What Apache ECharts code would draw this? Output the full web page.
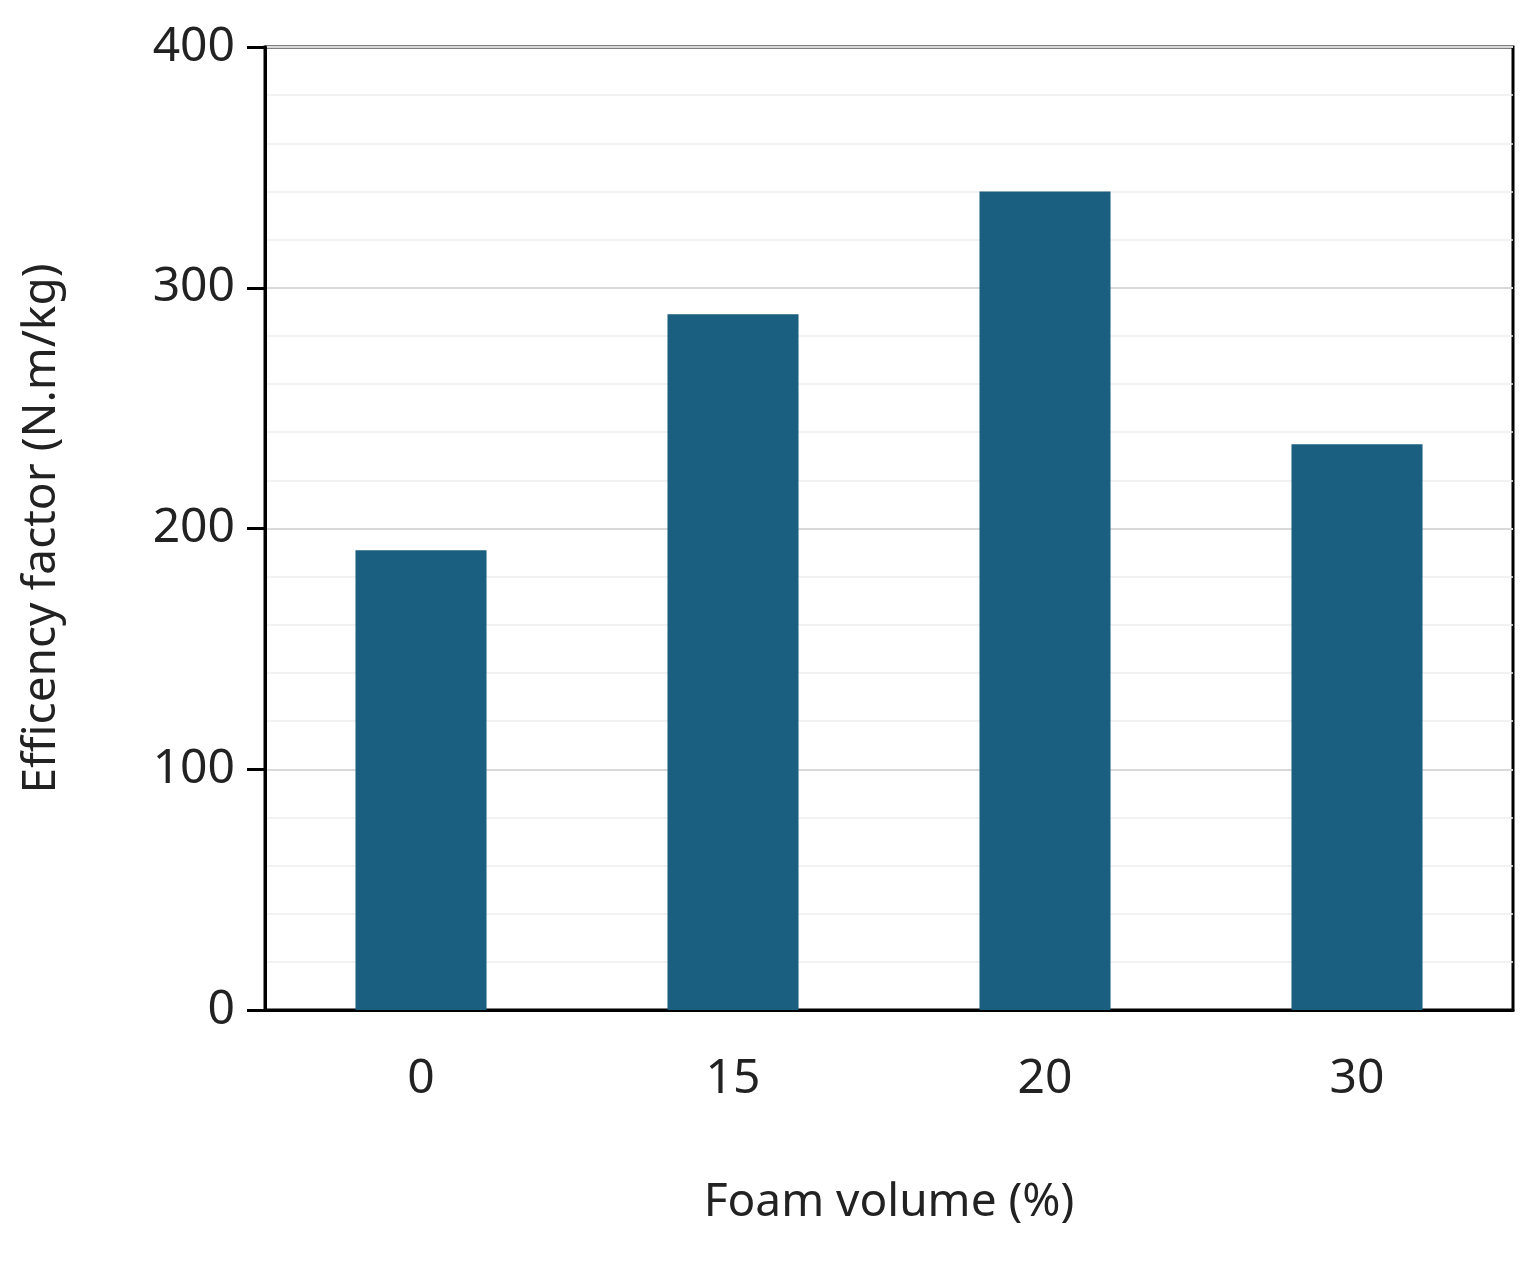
<!DOCTYPE html>
<html><head><meta charset="utf-8">
<script src="https://cdn.jsdelivr.net/npm/echarts@6/dist/echarts.min.js"></script>
<style>html,body{margin:0;padding:0;background:#fff}#c{width:1531px;height:1262px}</style>
</head><body><div id="c"></div>
<script>
const categories = ['0', '15', '20', '30'];
const values = [191, 289, 340, 235];
const chart = echarts.init(document.getElementById('c'));
chart.setOption({
  animation: false,
  grid: {left: 265, right: 18, top: 47, bottom: 252, show: true, borderColor: '#000', borderWidth: 3, backgroundColor: 'transparent'},
  xAxis: {
    type: 'category', data: categories,
    name: 'Foam volume (%)', nameLocation: 'middle', nameGap: 170,
    nameTextStyle: {fontSize: 46, color: '#222', fontFamily: 'Noto Sans'},
    axisLine: {lineStyle: {color: '#000', width: 3}},
    axisTick: {show: false},
    axisLabel: {fontSize: 48, color: '#222', margin: 45, fontFamily: 'Noto Sans'}
  },
  yAxis: {
    type: 'value', min: 0, max: 400, interval: 100,
    name: 'Efficency factor (N.m/kg)', nameLocation: 'middle', nameGap: 200,
    nameTextStyle: {fontSize: 46, color: '#222', fontFamily: 'Noto Sans'},
    axisLine: {show: true, lineStyle: {color: '#000', width: 3}},
    axisTick: {show: true, length: 18, lineStyle: {color: '#000', width: 3}},
    axisLabel: {fontSize: 48, color: '#222', margin: 30, fontFamily: 'Noto Sans'},
    splitLine: {lineStyle: {color: '#d9d9d9', width: 2}},
    minorTick: {show: false, splitNumber: 5},
    minorSplitLine: {show: true, lineStyle: {color: '#eeeeee', width: 1.5}}
  },
  series: [{type: 'bar', data: values, barWidth: '42%', itemStyle: {color: '#1a5e80'}}]
});
</script></body></html>
